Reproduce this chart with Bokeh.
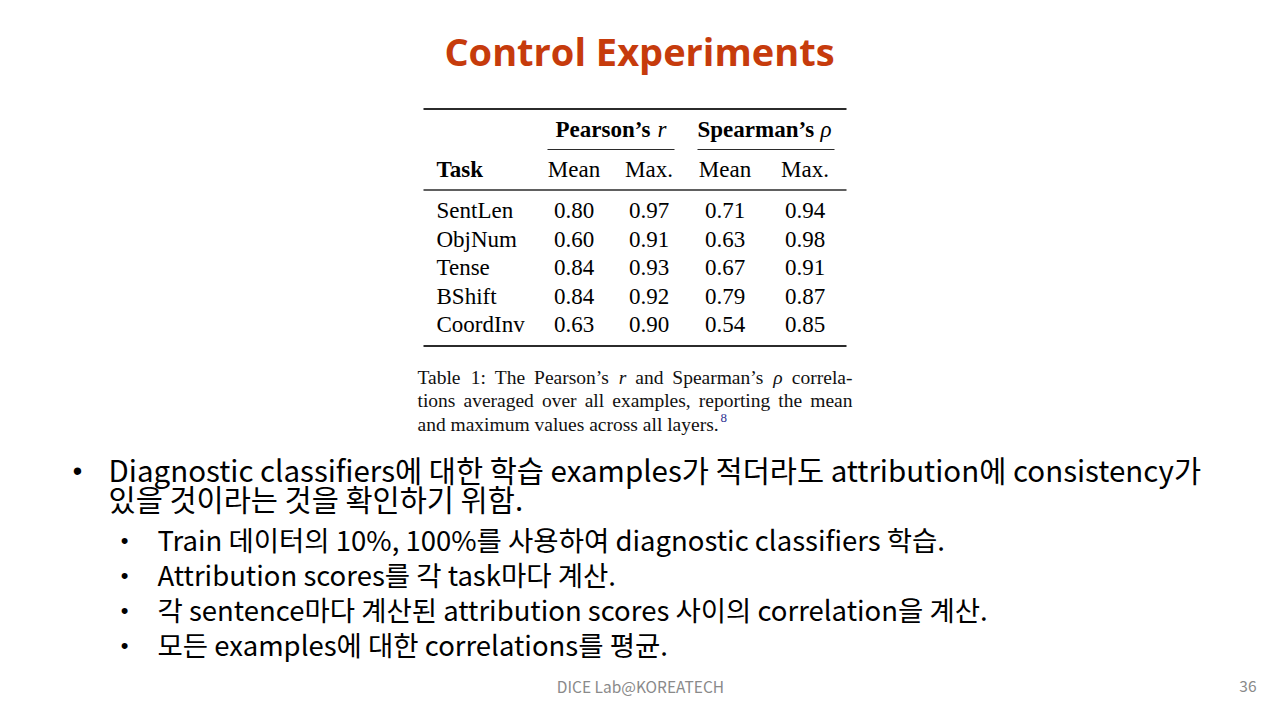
from bokeh.plotting import figure
from bokeh.models import Range1d
from bokeh.core.properties import value
from bokeh.embed import file_html
from bokeh.resources import INLINE

# ---------------- data ----------------
title_text = "Control Experiments"
tasks = ["SentLen", "ObjNum", "Tense", "BShift", "CoordInv"]
pearson_mean = [0.80, 0.60, 0.84, 0.84, 0.63]
pearson_max = [0.97, 0.91, 0.93, 0.92, 0.90]
spearman_mean = [0.71, 0.63, 0.67, 0.79, 0.54]
spearman_max = [0.94, 0.98, 0.91, 0.87, 0.85]
group_names = ["Pearson’s", "Spearman’s"]
group_symbols = ["r", "ρ"]
col_headers = ["Mean", "Max.", "Mean", "Max."]
task_header = "Task"
caption_lines = [
    [("Table", "n"), ("1:", "n"), ("The", "n"), ("Pearson’s", "n"), ("r", "i"), ("and", "n"),
     ("Spearman’s", "n"), ("ρ", "i"), ("correla-", "n")],
    [("tions", "n"), ("averaged", "n"), ("over", "n"), ("all", "n"), ("examples,", "n"),
     ("reporting", "n"), ("the", "n"), ("mean", "n")],
    [("and", "n"), ("maximum", "n"), ("values", "n"), ("across", "n"), ("all", "n"), ("layers.", "n")],
]
footnote_mark = "8"
main_bullet_lines = ["Diagnostic classifiers에 대한 학습 examples가 적더라도 attribution에 consistency가",
                     "있을 것이라는 것을 확인하기 위함."]
sub_bullets = ["Train 데이터의 10%, 100%를 사용하여 diagnostic classifiers 학습.",
               "Attribution scores를 각 task마다 계산.",
               "각 sentence마다 계산된 attribution scores 사이의 correlation을 계산.",
               "모든 examples에 대한 correlations를 평균."]
footer_text = "DICE Lab@KOREATECH"
page_number = "36"

# ---------------- figure ----------------
W, H = 1264, 704
p = figure(width=W, height=H, x_range=Range1d(0, W), y_range=Range1d(H, 0),
           x_axis_type=None, y_axis_type=None, toolbar_location=None,
           output_backend="svg", min_border=0, outline_line_color=None,
           background_fill_color="white", border_fill_color="white")
p.grid.visible = False

SERIF = "Liberation Serif"
KR = "Noto Sans CJK KR"
BASE_SHIFT = 0.3  # em offset so that y is the visual alphabetic baseline


def txt(x, y, s, size, font, style="normal", color="#000000", align="left"):
    p.text(x=[x], y=[y - BASE_SHIFT * size], text=[s], text_font=value(font),
           text_font_size=value(f"{size}px"), text_font_style=style, text_color=color,
           text_align=align, text_baseline="alphabetic")


# title
txt(639, 62, title_text, 38, "Open Sans", style="bold", color="#C63B0C", align="center")

# ---------------- table ----------------
rule_col = "#2b2b2b"
p.segment(x0=[423], y0=[108.5], x1=[846], y1=[108.5], line_width=2.2, line_color=rule_col)
p.segment(x0=[547, 697], y0=[149, 149], x1=[674, 834], y1=[149, 149], line_width=1.1, line_color=rule_col)
p.segment(x0=[423], y0=[189.5], x1=[846], y1=[189.5], line_width=1.4, line_color=rule_col)
p.segment(x0=[423], y0=[345.5], x1=[846], y1=[345.5], line_width=2.2, line_color=rule_col)

TS = 23
group_x = [555, 697]
sym_x = [657, 820]
for gx, sx, gname, gsym in zip(group_x, sym_x, group_names, group_symbols):
    txt(gx, 136, gname, TS, SERIF, style="bold")
    txt(sx, 136, gsym, TS, SERIF, style="italic")

col_x = [573.5, 648.5, 724.5, 804.5]
txt(436, 176, task_header, TS, SERIF, style="bold")
for cx, h in zip(col_x, col_headers):
    txt(cx, 176, h, TS, SERIF, align="center")

row_y0, row_step = 217, 28.5
cols = [pearson_mean, pearson_max, spearman_mean, spearman_max]
ys = [row_y0 + i * row_step - BASE_SHIFT * TS for i in range(len(tasks))]
p.text(x=[436] * len(tasks), y=ys, text=tasks, text_font=value(SERIF), text_font_size=value(f"{TS}px"),
       text_color="#000000", text_baseline="alphabetic")
for cx, vals in zip(col_x, cols):
    p.text(x=[cx] * len(vals), y=ys, text=[f"{v:.2f}" for v in vals], text_font=value(SERIF),
           text_font_size=value(f"{TS}px"), text_color="#000000", text_align="center",
           text_baseline="alphabetic")

# ---------------- caption (justified, Times metrics) ----------------
tm = {' ': 250, 'a': 444, 'b': 500, 'c': 444, 'd': 500, 'e': 444, 'f': 333, 'g': 500, 'h': 500,
      'i': 278, 'j': 278, 'k': 500, 'l': 278, 'm': 778, 'n': 500, 'o': 500, 'p': 500, 'q': 500,
      'r': 333, 's': 389, 't': 278, 'u': 500, 'v': 500, 'w': 722, 'x': 500, 'y': 500, 'z': 444,
      'T': 611, 'P': 556, 'S': 556, ':': 278, ',': 250, '.': 250, '-': 333, '’': 333, '1': 500}
tm_it = {'r': 389, 'ρ': 500}

CS = 19.5
cap_left, cap_right = 417, 852
cap_base = [382.5, 406, 429.5]


def wwidth(word, style):
    tab = tm_it if style == "i" else tm
    return sum(tab.get(ch, 500) for ch in word) / 1000.0 * CS


last_end = None
for li, (line, by) in enumerate(zip(caption_lines, cap_base)):
    widths = [wwidth(w, s) for w, s in line]
    if li < len(caption_lines) - 1:
        gap = (cap_right - cap_left - sum(widths)) / (len(line) - 1)
    else:
        gap = 0.25 * CS
    x = cap_left
    for (w, s), wd in zip(line, widths):
        txt(x, by, w, CS, SERIF, style="italic" if s == "i" else "normal", color="#111111")
        x += wd + gap
    last_end = x - gap
txt(last_end + 2, cap_base[2] - 8, footnote_mark, 13, SERIF, color="#2e2e8f")

# ---------------- bullets ----------------
BS = 29.5
SS = 27.5
txt(77, 479, "•", 27, "Liberation Sans", align="center")
txt(108, 477, main_bullet_lines[0], BS, KR)
txt(108, 506.5, main_bullet_lines[1], BS, KR)
sub_y0, sub_step = 547, 35
for i, s in enumerate(sub_bullets):
    y = sub_y0 + i * sub_step
    txt(124, y, "•", 22, "Liberation Sans", align="center")
    txt(157, y, s, SS, KR)

# footer
txt(640, 690, footer_text, 15.5, KR, color="#8a8a8a", align="center")
txt(1256, 690, page_number, 15.5, KR, color="#8a8a8a", align="right")

open("out.html", "w").write(file_html(p, INLINE))
